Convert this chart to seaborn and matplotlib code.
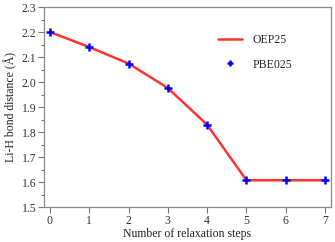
import pandas as pd
import matplotlib
matplotlib.use("Agg")
import matplotlib.pyplot as plt
import seaborn as sns
from matplotlib.ticker import MultipleLocator

# Data
steps = [0, 1, 2, 3, 4, 5, 6, 7]
oep25 = [2.200, 2.140, 2.074, 1.976, 1.829, 1.607, 1.607, 1.607]
pbe025 = [2.200, 2.140, 2.074, 1.976, 1.829, 1.607, 1.607, 1.607]

df = pd.DataFrame({"step": steps, "OEP25": oep25, "PBE025": pbe025})

sns.set_style("ticks")
plt.rcParams["font.family"] = "serif"
plt.rcParams["font.serif"] = ["Liberation Serif", "DejaVu Serif"]

fig = plt.figure(figsize=(3.35, 2.42), dpi=100)
ax = fig.add_axes([0.1313, 0.1446, 0.8567, 0.8264])

sns.lineplot(data=df, x="step", y="OEP25", ax=ax, color="#ff3333",
             linewidth=1.8, label="OEP25")
sns.lineplot(data=df, x="step", y="PBE025", ax=ax, color="blue",
             linestyle="none", marker="+", markersize=5.5, markeredgewidth=1.8,
             markeredgecolor="blue", label="PBE025")

ax.set_xlim(-0.15, 7.15)
ax.set_ylim(1.5, 2.3)
ax.xaxis.set_major_locator(MultipleLocator(1))
ax.yaxis.set_major_locator(MultipleLocator(0.1))
ax.yaxis.set_minor_locator(MultipleLocator(0.05))
ax.yaxis.set_major_formatter(matplotlib.ticker.FormatStrFormatter("%.1f"))

ax.set_xlabel("Number of relaxation steps", fontsize=8.5, color="#222222", labelpad=1)
ax.set_ylabel("Li-H bond distance (Å)", fontsize=8.5, color="#222222", labelpad=3)

for s in ax.spines.values():
    s.set_color("#888888")
    s.set_linewidth(0.9)
ax.tick_params(which="major", direction="out", length=4, width=0.8,
               color="#777777", labelsize=8.5, labelcolor="#333333", pad=1.5)
ax.tick_params(which="minor", direction="out", length=2, width=0.8,
               color="#777777")
ax.tick_params(axis="x", which="minor", bottom=False)

leg = ax.legend(loc="upper left", bbox_to_anchor=(0.57, 0.92), frameon=False,
                fontsize=8.5, handlelength=2.0, labelspacing=1.1,
                handletextpad=0.9)
leg.legend_handles[1].set_markersize(4.5)

fig.savefig("out.png", dpi=100)
